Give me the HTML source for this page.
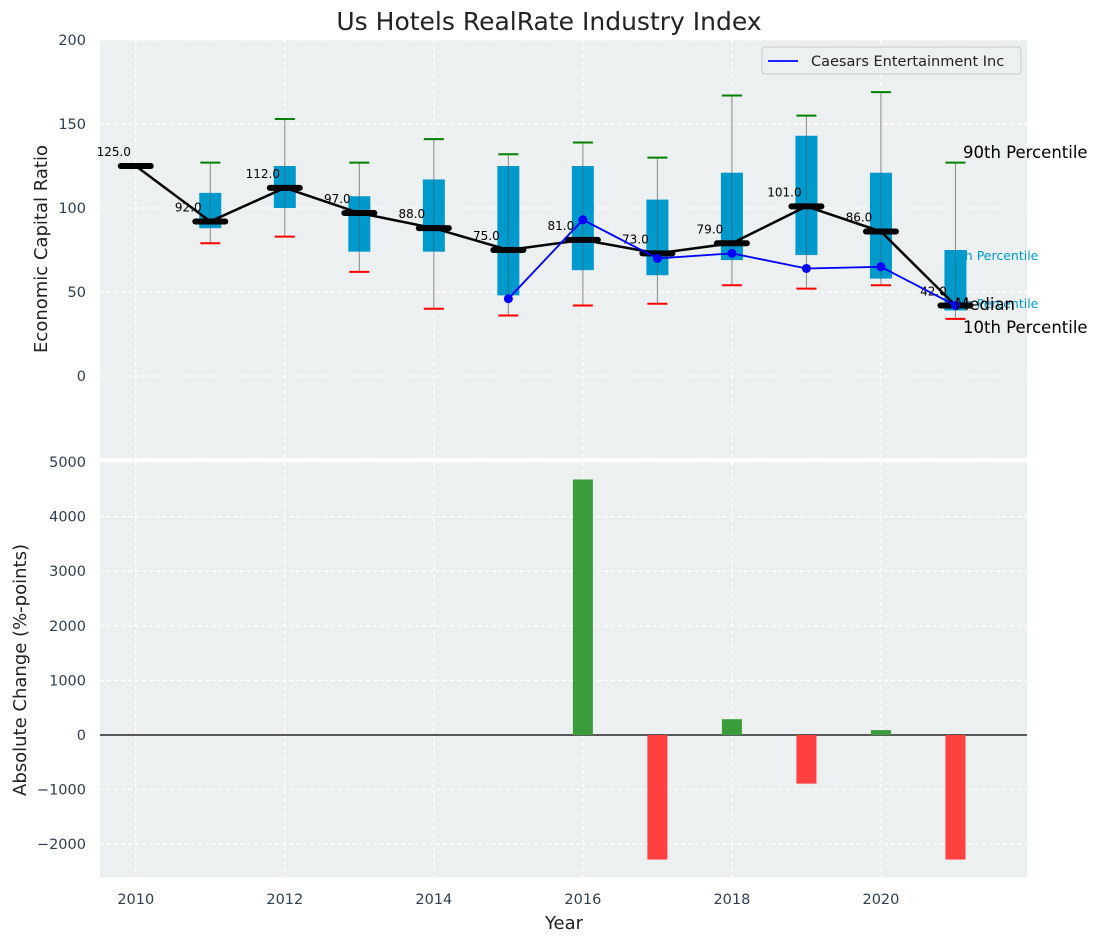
<!DOCTYPE html>
<html><head><meta charset="utf-8"><style>
body{margin:0;background:#fff;font-family:"Liberation Sans","DejaVu Sans",sans-serif}
svg text{font-family:"DejaVu Sans","Liberation Sans",sans-serif}
</style></head><body>
<svg id="c" width="1098" height="942" xmlns="http://www.w3.org/2000/svg"></svg>
<script>
const years=[2010,2011,2012,2013,2014,2015,2016,2017,2018,2019,2020,2021];
const medians=[125,92,112,97,88,75,81,73,79,101,86,42];
const q1=[null,88,100,74,74,48,63,60,69,72,58,39];
const q3=[null,109,125,107,117,125,125,105,121,143,121,75];
const p90=[null,127,153,127,141,132,139,130,167,155,169,127];
const p10=[null,79,83,62,40,36,42,43,54,52,54,34];
const compYears=[2015,2016,2017,2018,2019,2020,2021];
const compVals=[46,93,70,73,64,65,42];
const barYears=[2016,2017,2018,2019,2020,2021];
const barVals=[4680,-2280,290,-890,90,-2280];
const topTicks=[0,50,100,150,200];
const botTicks=[-2000,-1000,0,1000,2000,3000,4000,5000];
const xTicks=[2010,2012,2014,2016,2018,2020];

const NS="http://www.w3.org/2000/svg",svg=document.getElementById('c');
function el(t,a,p){const e=document.createElementNS(NS,t);for(const k in a)e.setAttribute(k,a[k]);(p||svg).appendChild(e);return e;}
const L=100,R=1027,T1=40,B1=458,T2=462,B2=877;
const x=v=>L+(v-2009.52)/(2021.96-2009.52)*(R-L);
const y1=v=>T1+(200-v)/(200-(-48.8))*(B1-T1);
const y2=v=>T2+(5000-v)/(5000-(-2600))*(B2-T2);

function panel(T,B,name){const r=el('rect',{x:L,y:T,width:R-L,height:B-T,fill:'#ecf0f1'});}
panel(T1,B1,'top-plot-area');panel(T2,B2,'bottom-plot-area');
xTicks.forEach(v=>{[[T1,B1],[T2,B2]].forEach(([a,b])=>{const g=el('line',{x1:x(v),x2:x(v),y1:a,y2:b,stroke:'#fff','stroke-dasharray':'4,3','stroke-width':1});});});
topTicks.forEach(v=>{const g=el('line',{x1:L,x2:R,y1:y1(v),y2:y1(v),stroke:'#fff','stroke-dasharray':'4,3'});
const t=el('text',{x:86,y:y1(v)+5,'text-anchor':'end','font-size':14.5,fill:'#2c3e50'});t.textContent=v;});
botTicks.forEach(v=>{const g=el('line',{x1:L,x2:R,y1:y2(v),y2:y2(v),stroke:'#fff','stroke-dasharray':'4,3'});
const t=el('text',{x:86,y:y2(v)+5,'text-anchor':'end','font-size':14.5,fill:'#2c3e50'});t.textContent=(v<0?'\u2212'+(-v):v);});
xTicks.forEach(v=>{const t=el('text',{x:x(v),y:904,'text-anchor':'middle','font-size':14.5,fill:'#2c3e50'});t.textContent=v;});

years.forEach((yr,i)=>{if(q1[i]==null)return;const cx=x(yr);
const w=el('line',{x1:cx,x2:cx,y1:y1(p90[i]),y2:y1(p10[i]),stroke:'#888','stroke-width':1});
const b=el('rect',{x:cx-11,y:y1(q3[i]),width:22,height:y1(q1[i])-y1(q3[i]),fill:'#0099cc'});
const w2=el('line',{x1:cx,x2:cx,y1:y1(q3[i]),y2:y1(q1[i]),stroke:'#555','stroke-width':1,opacity:0.5});
const c1=el('line',{x1:cx-10,x2:cx+10,y1:y1(p90[i]),y2:y1(p90[i]),stroke:'green','stroke-width':2});
const c2=el('line',{x1:cx-10,x2:cx+10,y1:y1(p10[i]),y2:y1(p10[i]),stroke:'red','stroke-width':2});});
[[955,256,'75th Percentile','#0099cc',12.5],[955,304,'25th Percentile','#0099cc',12.5]].forEach(a=>{const t=el('text',{x:a[0]-11,y:a[1]+4,'font-size':a[4],fill:a[3]});t.textContent=a[2];});
const mp=el('polyline',{points:years.map((v,i)=>x(v)+','+y1(medians[i])).join(' '),fill:'none',stroke:'#000','stroke-width':2.5});
years.forEach((v,i)=>{const m=el('line',{x1:x(v)-15,x2:x(v)+15,y1:y1(medians[i]),y2:y1(medians[i]),stroke:'#000','stroke-width':6,'stroke-linecap':'round'});
const t=el('text',{x:x(v)-22,y:y1(medians[i])-10,'text-anchor':'middle','font-size':12,fill:'#000'});t.textContent=medians[i].toFixed(1);});
const cp=el('polyline',{points:compYears.map((v,i)=>x(v)+','+y1(compVals[i])).join(' '),fill:'none',stroke:'blue','stroke-width':1.8});
compYears.forEach((v,i)=>{const d=el('circle',{cx:x(v),cy:y1(compVals[i]),r:4.5,fill:'blue'});});
[[963,158,'90th Percentile'],[955,310,'Median'],[963,333,'10th Percentile']].forEach(a=>{const t=el('text',{x:a[0],y:a[1],'font-size':16.5,fill:'#000'});t.textContent=a[2];});
const lg=el('g',{});
el('rect',{x:762,y:47,width:259,height:27,rx:3,fill:'#ecf0f1',stroke:'#ccc'},lg);
el('line',{x1:768,x2:798,y1:61,y2:61,stroke:'blue','stroke-width':1.8},lg);
const lt=el('text',{x:811,y:66,'font-size':14.5,fill:'#222'},lg);lt.textContent='Caesars Entertainment Inc';
const zl=el('line',{x1:L,x2:R,y1:y2(0),y2:y2(0),stroke:'#000','stroke-width':1.2});
barYears.forEach((v,i)=>{const val=barVals[i];const b=el('rect',{x:x(v)-10,y:Math.min(y2(0),y2(val)),width:20,height:Math.abs(y2(val)-y2(0)),fill:val>=0?'#3a9c3a':'#ff4040'});});
const tt=el('text',{x:549,y:30,'text-anchor':'middle','font-size':25,fill:'#222'});tt.textContent='Us Hotels RealRate Industry Index';
const yt=el('text',{x:0,y:0,'text-anchor':'middle','font-size':18,fill:'#222',transform:'translate(47,249) rotate(-90)'});yt.textContent='Economic Capital Ratio';
const yb=el('text',{x:0,y:0,'text-anchor':'middle','font-size':18,fill:'#222',transform:'translate(26,670) rotate(-90)'});yb.textContent='Absolute Change (%-points)';
const xt=el('text',{x:564,y:929,'text-anchor':'middle','font-size':18,fill:'#222'});xt.textContent='Year';
</script></body></html>
